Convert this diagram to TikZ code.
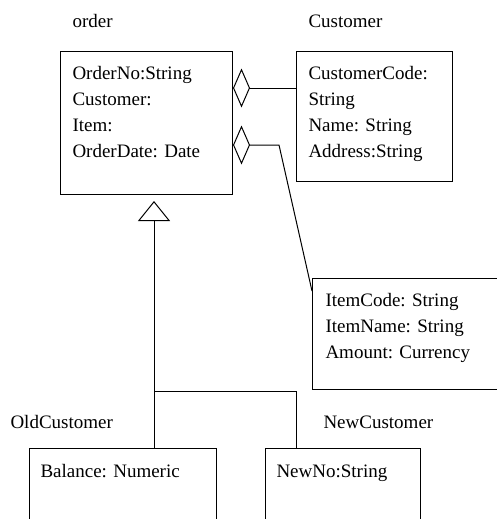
\documentclass[tikz,border=0pt]{standalone}
\usepackage{fontspec}
\setmainfont{Liberation Serif}
\usetikzlibrary{arrows.meta}
\begin{document}
\begin{tikzpicture}[x=1pt,y=-1pt,line width=1pt,
  box/.style={draw,anchor=north west,inner sep=0pt},
  txt/.style={anchor=base west,inner sep=0pt,font=\fontsize{19}{26}\selectfont},
  agg/.style={{Diamond[open,length=17pt,width=39pt]}-},
  gen/.style={-{Triangle[open,length=20pt,width=32pt]}}]
\useasboundingbox (0,0) rectangle (496,519);
% boxes
\node[box,minimum width=172pt,minimum height=143pt] (order) at (60,51) {};
\node[box,minimum width=156pt,minimum height=130pt] (cust) at (296,51) {};
\node[box,minimum width=260pt,minimum height=111pt] (item) at (312,278) {};
\node[box,minimum width=187pt,minimum height=90pt] (old) at (29,448) {};
\node[box,minimum width=155pt,minimum height=90pt] (new) at (265,448) {};
% titles
\node[txt] (lorder) at (72,28) {order};
\node[txt] (lcust) at (308,28) {Customer};
\node[txt] (lold) at (10,428) {OldCustomer};
\node[txt] (lnew) at (323,428) {NewCustomer};
% order attributes
\node[txt] (o1) at (72,79) {OrderNo:String};
\node[txt] (o2) at (72,105) {Customer:};
\node[txt] (o3) at (72,131) {Item:};
\node[txt] (o4) at (72,157) {OrderDate: Date};
% customer attributes
\node[txt] (c1) at (308,79) {CustomerCode:};
\node[txt] (c2) at (308,105) {String};
\node[txt] (c3) at (308,131) {Name: String};
\node[txt] (c4) at (308,157) {Address:String};
% item attributes
\node[txt] (i1) at (325,306) {ItemCode: String};
\node[txt] (i2) at (325,332) {ItemName: String};
\node[txt] (i3) at (325,358) {Amount: Currency};
% subclass attributes
\node[txt] (b1) at (40,477) {Balance: Numeric};
\node[txt] (n1) at (276,477) {NewNo:String};
% connector points
\coordinate (a1) at (232,88);
\coordinate (a2) at (232,145);
\coordinate (bend) at (279,145);
\coordinate (ie) at (312,291);
\coordinate (tri) at (154,201);
\coordinate (jn) at (154,391);
\coordinate (jr) at (296,391);
% aggregations
\draw[agg] (order.east |- a1) -- (cust.west |- a1);
\draw[agg] (order.east |- a2) -- (bend) -- (item.west |- ie);
% generalization
\draw[gen] (old.north -| tri) -- (tri);
\draw (new.north -| jr) -- (jr) -- (jn);
\end{tikzpicture}
\end{document}
